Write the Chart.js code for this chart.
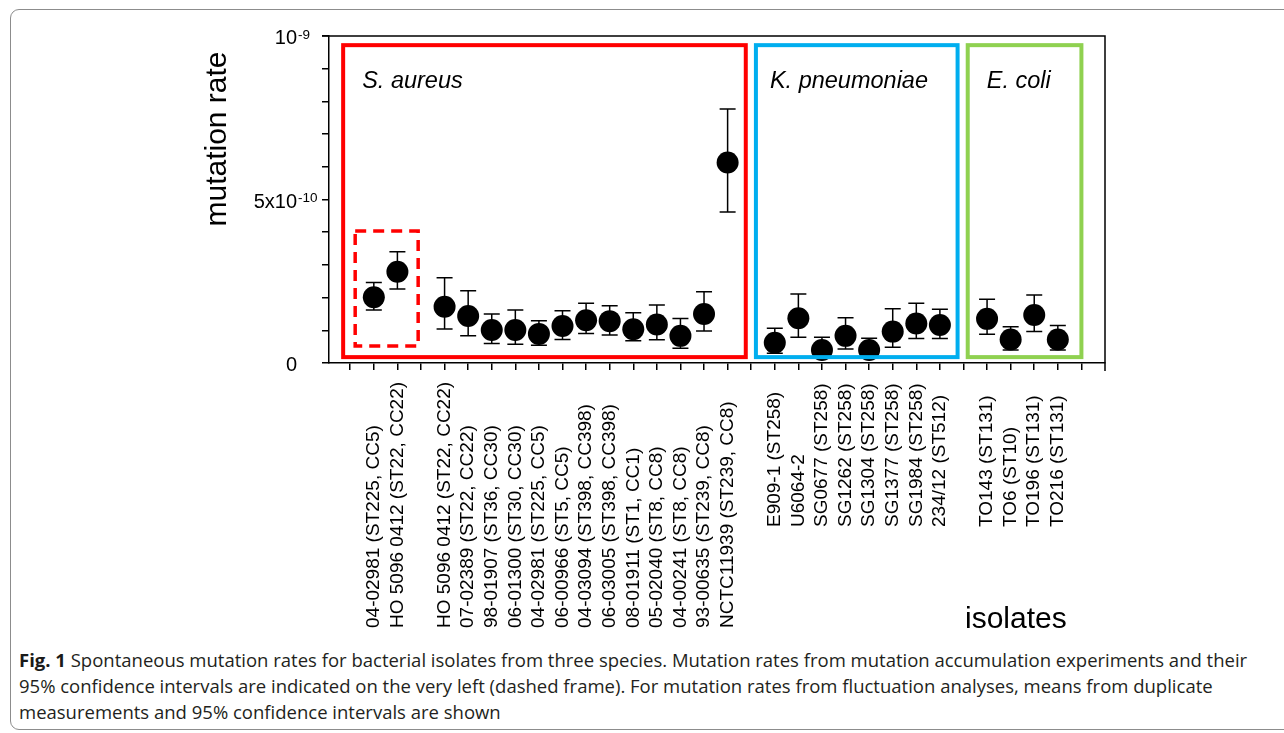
<!DOCTYPE html>
<html>
<head>
<meta charset="utf-8">
<script src="https://cdn.jsdelivr.net/npm/chart.js@4.4.1/dist/chart.umd.min.js"></script>
<style>
  body { margin: 0; background: #fff; width: 1284px; height: 733px; overflow: hidden; position: relative; }
  #frame { position: absolute; left: 10px; top: 9px; width: 1400px; height: 721px; border: 1.5px solid #8c8c8c; border-radius: 9px; box-sizing: border-box; }
  #wrap { position: absolute; left: 0; top: 0; width: 1284px; height: 645px; }
  #caption { position: absolute; left: 19px; top: 647px; font-family: "Open Sans", sans-serif; font-size: 18.5px; line-height: 26px; color: #231f20; white-space: nowrap; }
  #caption b { color: #1a1a1a; }
</style>
</head>
<body>
<div id="frame"></div>
<div id="wrap"><canvas id="chart" width="1284" height="645"></canvas></div>
<div id="caption"><b>Fig. 1</b> Spontaneous mutation rates for bacterial isolates from three species. Mutation rates from mutation accumulation experiments and their<br>95% confidence intervals are indicated on the very left (dashed frame). For mutation rates from fluctuation analyses, means from duplicate<br>measurements and 95% confidence intervals are shown</div>
<script>
// isolates, one per slot on the x axis ('' = empty slot between species)
const isolates = [
  '04-02981 (ST225, CC5)', 'HO 5096 0412 (ST22, CC22)', '',
  'HO 5096 0412 (ST22, CC22)', '07-02389 (ST22, CC22)', '98-01907 (ST36, CC30)',
  '06-01300 (ST30, CC30)', '04-02981 (ST225, CC5)', '06-00966 (ST5, CC5)',
  '04-03094 (ST398, CC398)', '06-03005 (ST398, CC398)', '08-01911 (ST1, CC1)',
  '05-02040 (ST8, CC8)', '04-00241 (ST8, CC8)', '93-00635 (ST239, CC8)',
  'NCTC11939 (ST239, CC8)', '',
  'E909-1 (ST258)', 'U6064-2', 'SG0677 (ST258)', 'SG1262 (ST258)', 'SG1304 (ST258)',
  'SG1377 (ST258)', 'SG1984 (ST258)', '234/12 (ST512)', '',
  'TO143 (ST131)', 'TO6 (ST10)', 'TO196 (ST131)', 'TO216 (ST131)'
];
// which species group each slot belongs to (index into species)
const slotGroup = [0,0,0, 0,0,0,0,0,0,0,0,0,0,0,0,0,0, 1,1,1,1,1,1,1,1,1, 2,2,2,2];

// mutation rate in units of 1e-10, with 95% CI
const rate  = [2.01, 2.79, null, 1.72, 1.44, 1.01, 1.01, 0.89, 1.13, 1.31, 1.28, 1.03, 1.18, 0.83, 1.50, 6.13, null,
               0.62, 1.37, 0.40, 0.83, 0.40, 0.96, 1.21, 1.16, null, 1.35, 0.72, 1.47, 0.72];
const lower = [1.62, 2.26, null, 1.04, 0.83, 0.60, 0.57, 0.54, 0.72, 0.90, 0.86, 0.68, 0.71, 0.45, 0.98, 4.62, null,
               0.30, 0.79, 0.18, 0.43, 0.18, 0.48, 0.75, 0.75, null, 0.88, 0.40, 0.96, 0.40];
const upper = [2.46, 3.40, null, 2.61, 2.21, 1.50, 1.62, 1.29, 1.60, 1.83, 1.75, 1.54, 1.77, 1.36, 2.18, 7.77, null,
               1.06, 2.11, 0.79, 1.38, 0.76, 1.66, 1.83, 1.64, null, 1.95, 1.11, 2.08, 1.15];

// species frames (x in slot units, y in 1e-10 units)
const species      = ['S. aureus', 'K. pneumoniae', 'E. coli'];
const speciesFrom  = [-1.3, 16.2, 25.18];
const speciesTo    = [15.77, 24.75, 30.0];
const speciesColor = ['#ff0000', '#00aeef', '#8fd150'];
const frameBottom = 0.18, frameTop = 9.72;
// mutation accumulation frame (dashed)
const maFrame = { from: -0.79, to: 1.88, bottom: 0.52, top: 4.04 };

// y tick labels: [value, main text, superscript]
const yLabels = [[0, '0', ''], [5, '5x10', '-10'], [10, '10', '-9']];

const FONT = '"Liberation Sans", Arial, sans-serif';

const points = [];
rate.forEach((v, i) => { if (v != null) points.push({ x: i, y: v }); });

const errorBars = {
  id: 'errorBars',
  beforeDatasetsDraw(chart) {
    const { ctx, scales: { x, y } } = chart;
    ctx.save();
    ctx.strokeStyle = '#000';
    ctx.lineWidth = 1.5;
    rate.forEach((v, i) => {
      if (v == null) return;
      const px = x.getPixelForValue(i);
      const t = y.getPixelForValue(upper[i]);
      const b = y.getPixelForValue(lower[i]);
      ctx.beginPath();
      ctx.moveTo(px, t); ctx.lineTo(px, b);
      ctx.moveTo(px - 8, t); ctx.lineTo(px + 8, t);
      ctx.moveTo(px - 8, b); ctx.lineTo(px + 8, b);
      ctx.stroke();
    });
    ctx.restore();
  }
};

const frames = {
  id: 'frames',
  afterDatasetsDraw(chart) {
    const { ctx, scales: { x, y } } = chart;
    ctx.save();
    const yt = y.getPixelForValue(frameTop), yb = y.getPixelForValue(frameBottom);
    species.forEach((name, k) => {
      const x0 = x.getPixelForValue(speciesFrom[k]), x1 = x.getPixelForValue(speciesTo[k]);
      ctx.strokeStyle = speciesColor[k];
      ctx.lineWidth = 4;
      ctx.strokeRect(x0, yt, x1 - x0, yb - yt);
      ctx.fillStyle = '#000';
      ctx.font = 'italic 23.5px ' + FONT;
      ctx.textAlign = 'left';
      ctx.textBaseline = 'alphabetic';
      ctx.fillText(name, x0 + (k == 1 ? 14 : 19), yt + 43);
    });
    // dashed frame
    const dx0 = x.getPixelForValue(maFrame.from), dx1 = x.getPixelForValue(maFrame.to);
    const dy0 = y.getPixelForValue(maFrame.top), dy1 = y.getPixelForValue(maFrame.bottom);
    ctx.strokeStyle = '#ff0000';
    ctx.lineWidth = 3.5;
    ctx.setLineDash([11, 7]);
    ctx.strokeRect(dx0, dy0, dx1 - dx0, dy1 - dy0);
    ctx.restore();
  }
};

const axisText = {
  id: 'axisText',
  afterDraw(chart) {
    const { ctx, chartArea: a, scales: { x, y } } = chart;
    ctx.save();
    // top and right frame lines
    ctx.strokeStyle = '#000';
    ctx.lineWidth = 1.5;
    ctx.beginPath();
    ctx.moveTo(a.left - 7, a.top); ctx.lineTo(a.right, a.top);
    ctx.lineTo(a.right, a.bottom + 8);
    ctx.stroke();

    // y tick labels with superscripts
    ctx.fillStyle = '#000';
    ctx.textBaseline = 'alphabetic';
    yLabels.forEach(([v, main, sup]) => {
      const py = y.getPixelForValue(v);
      const xr = a.left - 32;
      ctx.font = '20px ' + FONT;
      ctx.textAlign = 'right';
      ctx.fillText(main, xr, py + 8);
      if (sup) {
        ctx.font = '13.5px ' + FONT;
        ctx.textAlign = 'left';
        ctx.fillText(sup, xr + 1, py + 2.5);
      }
    });

    // x labels, start-aligned per species group, reading upwards
    ctx.font = '19px ' + FONT;
    const base = [628, 527, 527];
    isolates.forEach((lab, i) => {
      if (!lab) return;
      const px = x.getPixelForValue(i);
      ctx.save();
      ctx.translate(px, base[slotGroup[i]]);
      ctx.rotate(-Math.PI / 2);
      ctx.textAlign = 'left';
      ctx.textBaseline = 'middle';
      ctx.fillText(lab, 0, 0);
      ctx.restore();
    });

    // axis titles
    ctx.font = '30px ' + FONT;
    ctx.save();
    ctx.translate(a.left - 103, a.top + 103);
    ctx.rotate(-Math.PI / 2);
    ctx.textAlign = 'center';
    ctx.textBaseline = 'alphabetic';
    ctx.fillText('mutation rate', 0, 0);
    ctx.restore();
    ctx.textAlign = 'left';
    ctx.fillText('isolates', 965, 628);
    ctx.restore();
  }
};

new Chart(document.getElementById('chart'), {
  type: 'scatter',
  data: {
    datasets: [{
      data: points,
      pointRadius: 11,
      pointBackgroundColor: '#000',
      pointBorderWidth: 0,
      showLine: false,
      clip: false
    }]
  },
  options: {
    responsive: false,
    animation: false,
    devicePixelRatio: 1,
    events: [],
    layout: { padding: { left: 0, top: 36, right: 179, bottom: 0 } },
    plugins: { legend: { display: false }, tooltip: { enabled: false } },
    scales: {
      x: {
        type: 'linear',
        min: -1.9,
        max: 31,
        afterBuildTicks(scale) {
          const t = [];
          for (let i = -1; i <= isolates.length; i++) t.push({ value: i });
          scale.ticks = t;
        },
        afterFit(scale) { scale.height = 282; },
        ticks: { display: false },
        grid: { drawOnChartArea: false, tickLength: 7, color: '#000', lineWidth: 1.5 },
        border: { color: '#000', width: 1.5 }
      },
      y: {
        min: 0,
        max: 10,
        afterFit(scale) { scale.width = 329; },
        ticks: { display: false, stepSize: 1 },
        grid: { drawOnChartArea: false, tickLength: 7, color: '#000', lineWidth: 1.5 },
        border: { color: '#000', width: 1.5 }
      }
    }
  },
  plugins: [errorBars, frames, axisText]
});
</script>
</body>
</html>
